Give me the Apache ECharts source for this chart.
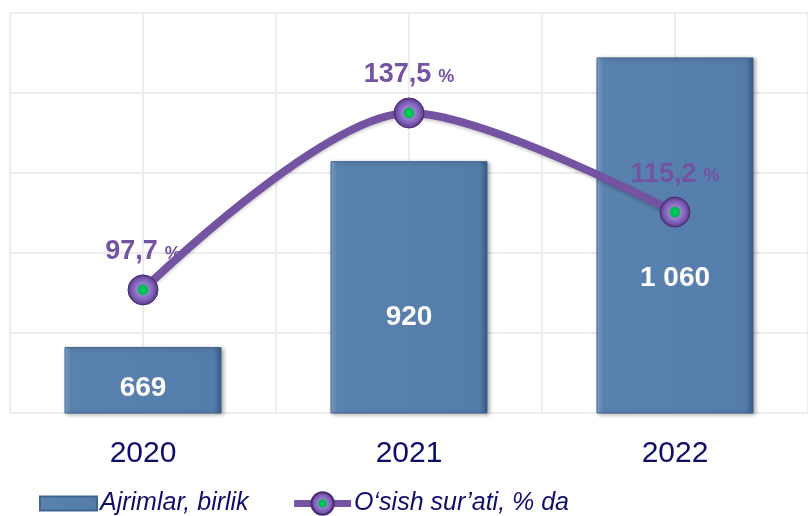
<!DOCTYPE html>
<html>
<head>
<meta charset="utf-8">
<script src="https://cdn.jsdelivr.net/npm/echarts@6/dist/echarts.min.js"></script>
<style>
  html, body { margin: 0; padding: 0; background: #fff; }
  #main { width: 808px; height: 516px; }
</style>
</head>
<body>
<div id="main"></div>
<script>
// data
const years = ["2020", "2021", "2022"];
const divorces = [669, 920, 1060];
const growth = [97.7, 137.5, 115.2];
const seriesNames = ["Ajrimlar, birlik", "O‘sish sur’ati, % da"];

const navy = "#0d0d6b";
const purple = "#7553a3";

const chart = echarts.init(document.getElementById("main"));

// bar label: thousands separated with a space
function fmtCount(p) {
  return String(p.value).replace(/\B(?=(\d{3})+(?!\d))/g, " ");
}
// line label: comma decimal, small percent sign
function fmtRate(p) {
  return "{v|" + p.value.toFixed(1).replace(".", ",") + "}{p|%}";
}

const barFill = new echarts.graphic.LinearGradient(0, 0, 1, 0, [
  { offset: 0, color: "#86abd4" },
  { offset: 0.045, color: "#5a82af" },
  { offset: 0.95, color: "#557dab" },
  { offset: 1, color: "#365a84" },
]);

chart.setOption({
  animation: false,
  textStyle: { fontFamily: "Liberation Sans, Arial, sans-serif" },
  grid: { left: 10, right: -6, top: 13, bottom: 103 },
  legend: {
    left: 34,
    top: 486,
    itemWidth: 57,
    itemHeight: 28,
    itemGap: 42,
    symbolKeepAspect: true,
    textStyle: { color: navy, fontSize: 25, fontStyle: "italic", padding: [0, 0, 0, -2] },
    data: [
      { name: seriesNames[0], icon: "path://M0,0H57V14H0Z" },
      { name: seriesNames[1], lineStyle: { width: 7, color: purple } },
    ],
  },
  xAxis: [
    {
      type: "category",
      data: years,
      axisLine: { show: false },
      axisTick: { show: false },
      axisLabel: { color: navy, fontSize: 30, margin: 26 },
    },
    {
      // only used for the vertical grid lines
      type: "value",
      min: 0,
      max: 6,
      interval: 1,
      axisLine: { show: false },
      axisTick: { show: false },
      axisLabel: { show: false },
      splitLine: { lineStyle: { color: "#ededed", width: 2 } },
    },
  ],
  yAxis: [
    { type: "value", min: 580, max: 1120, show: false },
    { type: "value", min: 70, max: 160, show: false },
    {
      // only used for the horizontal grid lines
      type: "value",
      min: 0,
      max: 5,
      interval: 1,
      axisLine: { show: false },
      axisTick: { show: false },
      axisLabel: { show: false },
      splitLine: { lineStyle: { color: "#ededed", width: 2 } },
    },
  ],
  series: [
    {
      name: seriesNames[0],
      type: "bar",
      xAxisIndex: 0,
      yAxisIndex: 0,
      data: divorces,
      barWidth: 157,
      z: 2,
      itemStyle: {
        color: barFill,
        borderColor: "#3f6590",
        borderWidth: 1,
        shadowColor: "rgba(0,0,0,0.35)",
        shadowBlur: 4,
        shadowOffsetX: 2,
        shadowOffsetY: 1,
      },
      label: {
        show: true,
        position: ["50%", "62%"],
        align: "center",
        verticalAlign: "middle",
        color: "#fff",
        fontSize: 28,
        fontWeight: "bold",
        formatter: fmtCount,
      },
    },
    {
      name: seriesNames[1],
      type: "line",
      xAxisIndex: 0,
      yAxisIndex: 1,
      data: growth,
      smooth: 0.3,
      z: 5,
      symbol: "circle",
      symbolSize: 30,
      lineStyle: {
        color: purple,
        width: 8,
        shadowColor: "rgba(0,0,0,0.2)",
        shadowBlur: 3,
        shadowOffsetY: 2,
      },
      itemStyle: {
        color: new echarts.graphic.RadialGradient(0.5, 0.5, 0.5, [
          { offset: 0, color: "#00d060" },
          { offset: 0.3, color: "#00b850" },
          { offset: 0.38, color: "#9a7fd0" },
          { offset: 0.75, color: "#7a58b0" },
          { offset: 1, color: "#4d2f78" },
        ]),
        borderColor: "#4a2d72",
        borderWidth: 1,
      },
      label: {
        show: true,
        position: "top",
        distance: 9,
        color: purple,
        formatter: fmtRate,
        rich: {
          v: { fontSize: 27, fontWeight: "bold", color: purple },
          p: { fontSize: 18, fontWeight: "bold", color: purple, padding: [4, 0, 0, 7] },
        },
      },
    },
  ],
});
</script>
</body>
</html>
